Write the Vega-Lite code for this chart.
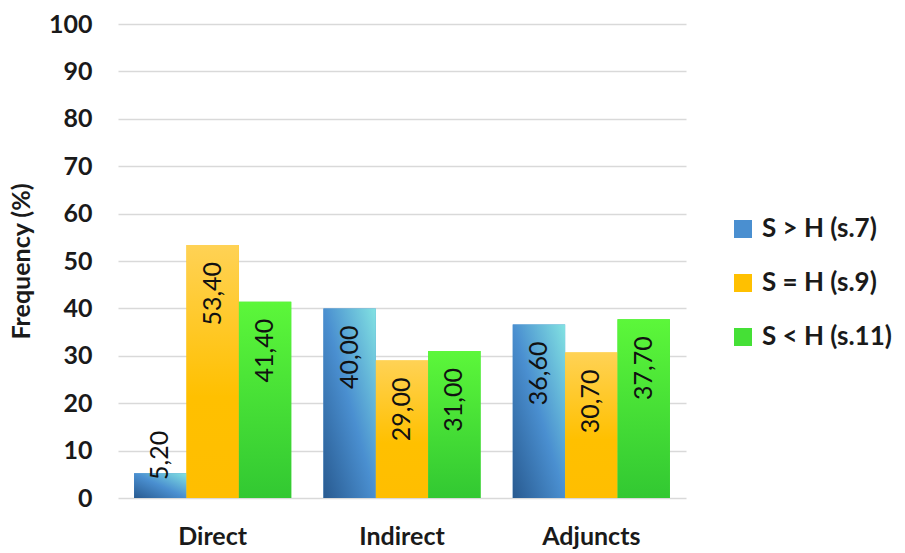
{
  "$schema": "https://vega.github.io/schema/vega-lite/v6.json",
  "width": 568,
  "height": 474,
  "autosize": {"type": "none"},
  "padding": {"left": 118, "top": 24, "right": 219, "bottom": 55},
  "background": "white",
  "config": {
    "locale": {"number": {"decimal": ",", "thousands": ".", "grouping": [3], "currency": ["", ""]}},
    "view": {"stroke": null},
    "font": "Lato"
  },
  "data": {
    "values": [
      {"type": "Direct", "group": "S > H (s.7)", "value": 5.2},
      {"type": "Direct", "group": "S = H (s.9)", "value": 53.4},
      {"type": "Direct", "group": "S < H (s.11)", "value": 41.4},
      {"type": "Indirect", "group": "S > H (s.7)", "value": 40.0},
      {"type": "Indirect", "group": "S = H (s.9)", "value": 29.0},
      {"type": "Indirect", "group": "S < H (s.11)", "value": 31.0},
      {"type": "Adjuncts", "group": "S > H (s.7)", "value": 36.6},
      {"type": "Adjuncts", "group": "S = H (s.9)", "value": 30.7},
      {"type": "Adjuncts", "group": "S < H (s.11)", "value": 37.7}
    ]
  },
  "encoding": {
    "x": {
      "field": "type",
      "type": "nominal",
      "sort": ["Direct", "Indirect", "Adjuncts"],
      "scale": {"paddingInner": 0.17, "paddingOuter": 0.085},
      "axis": {
        "title": null,
        "labelAngle": 0,
        "labelFont": "Lato",
        "labelFontSize": 25,
        "labelFontWeight": "bold",
        "labelColor": "#1a1a1a",
        "labelPadding": 26,
        "ticks": false,
        "domain": false
      }
    },
    "xOffset": {
      "field": "group",
      "type": "nominal",
      "sort": ["S > H (s.7)", "S = H (s.9)", "S < H (s.11)"],
      "scale": {"paddingInner": 0, "paddingOuter": 0}
    },
    "y": {
      "field": "value",
      "type": "quantitative",
      "scale": {"domain": [0, 100], "nice": false},
      "axis": {
        "title": "Frequency (%)",
        "titleFont": "Lato",
        "titleFontSize": 25,
        "titleFontWeight": "bold",
        "titleColor": "#1a1a1a",
        "titlePadding": 14,
        "values": [0, 10, 20, 30, 40, 50, 60, 70, 80, 90, 100],
        "labelFont": "Lato",
        "labelFontSize": 25,
        "labelFontWeight": "bold",
        "labelColor": "#1a1a1a",
        "labelPadding": 26,
        "ticks": false,
        "domain": false,
        "grid": true,
        "gridColor": "#d9d9d9",
        "gridWidth": 1.5
      }
    }
  },
  "layer": [
    {
      "mark": {"type": "bar"},
      "encoding": {
        "color": {
          "field": "group",
          "type": "nominal",
          "scale": {
            "domain": ["S > H (s.7)", "S = H (s.9)", "S < H (s.11)"],
            "range": ["#4a8fd0", "#ffc000", "#45e036"]
          },
          "legend": {
            "title": null,
            "orient": "none",
            "legendX": 612,
            "legendY": 192,
            "symbolType": "square",
            "symbolSize": 324,
            "symbolStrokeWidth": 0,
            "labelFont": "Lato",
            "labelFontSize": 26,
            "labelFontWeight": "bold",
            "labelColor": "#1a1a1a",
            "labelOffset": 6,
            "rowPadding": 28,
            "symbolOpacity": 1,
            "encode": {
              "symbols": {
                "enter": {
                  "fill": [
                    {"test": "datum.value === 'S > H (s.7)'", "value": {"gradient": "linear", "x1": 0, "y1": 1, "x2": 1, "y2": 0, "stops": [{"offset": 0, "color": "#285a90"}, {"offset": 0.5, "color": "#4a8fd0"}, {"offset": 1, "color": "#82e2e2"}]}},
                    {"test": "datum.value === 'S = H (s.9)'", "value": {"gradient": "linear", "x1": 0, "y1": 0, "x2": 0, "y2": 1, "stops": [{"offset": 0, "color": "#ffd255"}, {"offset": 1, "color": "#ffc000"}]}},
                    {"value": {"gradient": "linear", "x1": 0, "y1": 0, "x2": 0, "y2": 1, "stops": [{"offset": 0, "color": "#5cf73a"}, {"offset": 1, "color": "#32c832"}]}}
                  ]
                },
                "update": {
                  "fill": [
                    {"test": "datum.value === 'S > H (s.7)'", "value": {"gradient": "linear", "x1": 0, "y1": 1, "x2": 1, "y2": 0, "stops": [{"offset": 0, "color": "#285a90"}, {"offset": 0.5, "color": "#4a8fd0"}, {"offset": 1, "color": "#82e2e2"}]}},
                    {"test": "datum.value === 'S = H (s.9)'", "value": {"gradient": "linear", "x1": 0, "y1": 0, "x2": 0, "y2": 1, "stops": [{"offset": 0, "color": "#ffd255"}, {"offset": 1, "color": "#ffc000"}]}},
                    {"value": {"gradient": "linear", "x1": 0, "y1": 0, "x2": 0, "y2": 1, "stops": [{"offset": 0, "color": "#5cf73a"}, {"offset": 1, "color": "#32c832"}]}}
                  ]
                }
              }
            }
          }
        }
      }
    },
    {
      "transform": [{"filter": "datum.group === 'S > H (s.7)'"}],
      "mark": {
        "type": "bar",
        "fill": {"gradient": "linear", "x1": 0, "y1": 1, "x2": 1, "y2": 0,
          "stops": [{"offset": 0, "color": "#285a90"}, {"offset": 0.5, "color": "#4a8fd0"}, {"offset": 1, "color": "#82e2e2"}]}
      },
      "encoding": {}
    },
    {
      "transform": [{"filter": "datum.group === 'S = H (s.9)'"}],
      "mark": {
        "type": "bar",
        "fill": {"gradient": "linear", "x1": 0, "y1": 0, "x2": 0, "y2": 1,
          "stops": [{"offset": 0, "color": "#ffd255"}, {"offset": 0.6, "color": "#ffc000"}, {"offset": 1, "color": "#ffbe00"}]}
      },
      "encoding": {}
    },
    {
      "transform": [{"filter": "datum.group === 'S < H (s.11)'"}],
      "mark": {
        "type": "bar",
        "fill": {"gradient": "linear", "x1": 0, "y1": 0, "x2": 0, "y2": 1,
          "stops": [{"offset": 0, "color": "#5cf73a"}, {"offset": 1, "color": "#32c832"}]}
      },
      "encoding": {}
    },
    {
      "transform": [{"filter": "datum.value >= 10"}],
      "mark": {"type": "text", "angle": 270, "align": "right", "baseline": "middle", "dx": -17, "font": "Lato", "fontSize": 25, "color": "#111111"},
      "encoding": {
        "text": {"field": "value", "type": "quantitative", "format": ".2f"}
      }
    },
    {
      "transform": [{"filter": "datum.value < 10"}],
      "mark": {"type": "text", "angle": 270, "align": "left", "baseline": "middle", "dx": 18, "font": "Lato", "fontSize": 25, "color": "#111111"},
      "encoding": {
        "y": {"datum": 0, "type": "quantitative"},
        "text": {"field": "value", "type": "quantitative", "format": ".2f"}
      }
    }
  ]
}
